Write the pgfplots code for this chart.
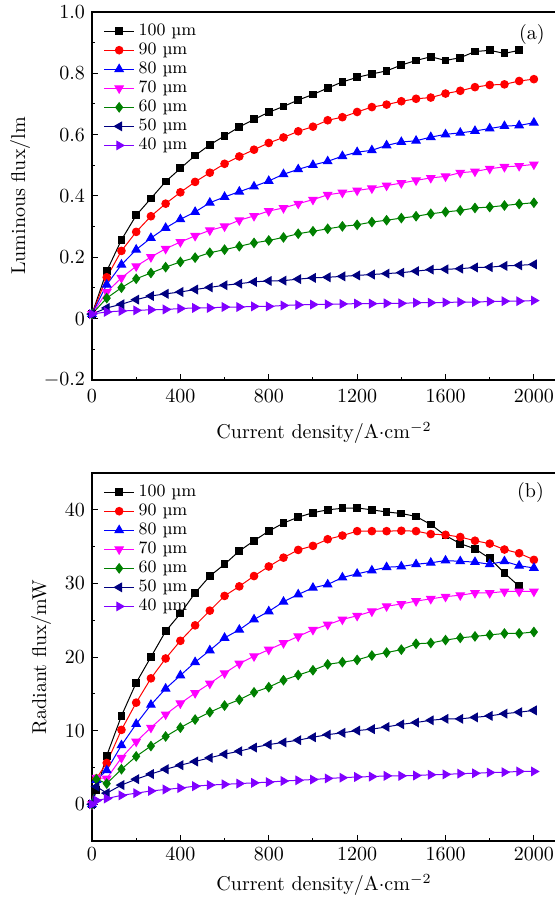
\documentclass[border=0pt]{standalone}
\usepackage{fontspec}
\usepackage{pgfplots}
\usepackage{pgfplotstable}
\pgfplotsset{compat=1.18}
\definecolor{cred}{RGB}{255,0,0}
\definecolor{cblue}{RGB}{0,0,255}
\definecolor{cmag}{RGB}{255,0,255}
\definecolor{cgreen}{RGB}{0,128,0}
\definecolor{cnavy}{RGB}{0,0,128}
\definecolor{cviol}{RGB}{128,0,255}

\pgfplotstableread{
x      a     b     c     d     e     f     g
0      0.015 0.015 0.015 0.015 0.015 0.015 0.015
66.7   0.155 0.135 0.111 0.087 0.067 0.035 0.022
133.3  0.257 0.221 0.176 0.133 0.101 0.047 0.025
200    0.337 0.283 0.225 0.171 0.130 0.062 0.027
266.7  0.392 0.334 0.263 0.201 0.149 0.074 0.029
333.3  0.447 0.375 0.296 0.228 0.168 0.081 0.030
400    0.490 0.412 0.324 0.250 0.185 0.087 0.033
466.7  0.532 0.446 0.348 0.270 0.199 0.095 0.035
533.3  0.567 0.476 0.378 0.288 0.215 0.102 0.035
600    0.596 0.505 0.397 0.301 0.225 0.109 0.038
666.7  0.625 0.529 0.414 0.321 0.236 0.114 0.038
733.3  0.650 0.551 0.431 0.335 0.247 0.120 0.040
800    0.673 0.573 0.449 0.351 0.255 0.123 0.040
866.7  0.692 0.591 0.471 0.361 0.265 0.124 0.043
933.3  0.713 0.611 0.487 0.375 0.277 0.129 0.045
1000   0.731 0.626 0.501 0.388 0.285 0.133 0.046
1066.7 0.752 0.647 0.513 0.404 0.293 0.135 0.047
1133.3 0.772 0.657 0.530 0.411 0.301 0.138 0.048
1200   0.787 0.674 0.543 0.418 0.306 0.141 0.049
1266.7 0.798 0.690 0.549 0.425 0.315 0.144 0.049
1333.3 0.808 0.698 0.565 0.434 0.321 0.147 0.050
1400   0.827 0.709 0.576 0.442 0.328 0.150 0.050
1466.7 0.842 0.717 0.580 0.451 0.334 0.155 0.052
1533.3 0.854 0.721 0.592 0.459 0.342 0.160 0.052
1600   0.842 0.734 0.601 0.464 0.348 0.161 0.053
1666.7 0.851 0.743 0.606 0.476 0.353 0.163 0.054
1733.3 0.871 0.755 0.612 0.480 0.361 0.167 0.054
1800   0.875 0.762 0.620 0.489 0.364 0.168 0.056
1866.7 0.865 0.764 0.628 0.495 0.369 0.172 0.057
1933.3 0.875 0.775 0.630 0.498 0.374 0.174 0.057
2000   nan   0.781 0.639 0.503 0.378 0.177 0.059
}\lumtable

\pgfplotstableread{
x      a     b     c     d     e     f     g
0      0     0     0     0     0     0     0
20     1.9   3.5   3.3   3.6   3.4   2.4   0.5
66.7   6.6   5.6   4.6   3.5   2.8   1.5   0.77
133.3  12.0  10.1  8.0   6.3   4.75  2.6   1.2
200    16.5  13.8  10.9  8.5   6.5   3.4   1.5
266.7  20.0  17.1  13.5  10.4  7.9   4.1   1.8
333.3  23.5  19.8  15.7  12.2  9.2   4.75  2.0
400    25.9  22.2  17.5  13.7  10.4  5.3   2.2
466.7  28.7  24.3  19.3  15.1  11.5  5.8   2.45
533.3  31.0  26.3  20.9  16.4  12.5  6.3   2.6
600    32.6  28.3  22.6  17.8  13.4  6.8   2.7
666.7  34.4  29.6  23.7  19.1  14.2  7.2   2.8
733.3  35.8  31.0  25.1  20.1  15.2  7.7   2.9
800    37.1  32.3  26.2  21.0  15.9  8.1   3.0
866.7  38.2  33.5  27.5  21.9  16.85 8.4   3.15
933.3  39.0  34.55 28.5  22.8  17.55 8.7   3.25
1000   39.6  35.1  29.4  23.7  18.2  9.1   3.35
1066.7 40.0  36.0  29.85 24.4  19.0  9.45  3.5
1133.3 40.2  36.5  30.8  25.1  19.3  9.7   3.6
1200   40.25 37.1  31.3  25.6  19.6  10.0  3.7
1266.7 40.0  37.1  31.75 26.2  20.2  10.2  3.75
1333.3 39.7  37.1  32.2  26.9  20.6  10.5  3.85
1400   39.5  37.15 32.3  27.2  21.0  10.85 3.85
1466.7 39.1  37.1  32.6  27.6  21.8  11.1  3.9
1533.3 38.0  36.7  32.8  27.9  21.9  11.4  4.0
1600   36.5  36.6  33.1  28.2  22.3  11.6  4.05
1666.7 35.4  36.3  33.0  28.4  22.6  11.6  4.15
1733.3 34.7  35.8  32.9  28.7  22.8  11.8  4.2
1800   33.4  35.4  32.6  28.7  23.0  12.0  4.3
1866.7 31.4  34.6  33.0  28.9  23.2  12.3  4.35
1933.3 29.6  34.1  32.4  28.9  23.2  12.5  4.45
2000   nan   33.2  32.1  28.9  23.4  12.75 4.45
}\radtable

\pgfplotsset{
  myaxis/.style={
    width=232pt, height=184pt, scale only axis,
    xmin=0, xmax=2100,
    xtick={0,400,...,2000},
    /pgf/number format/set thousands separator={},
    minor x tick num=1, minor y tick num=1,
    xtick pos=bottom, ytick pos=left,
    tick align=inside,
    major tick length=3pt, minor tick length=1.5pt,
    axis line style={line width=0.6pt},
    every tick/.style={line width=0.5pt},
    xlabel={Current density/A$\cdot$cm$^{-2}$},
    clip=false,
    unbounded coords=jump,
    legend cell align=left,
    legend image code/.code={%
      \draw[mark repeat=2,mark phase=2] plot coordinates {(0pt,0pt) (7.5pt,0pt) (15pt,0pt)};},
    legend style={draw=none, fill=none, at={(0.02,0.985)}, anchor=north west,
      font=\fontsize{8.7}{10}\selectfont, row sep=-1.8pt, inner sep=1pt},
    every axis plot/.append style={line width=0.5pt},
  },
  s1/.style={black, mark=square*, mark size=1.7pt},
  s2/.style={cred, mark=*, mark size=1.9pt},
  s3/.style={cblue, mark=triangle*, mark size=2.4pt},
  s4/.style={cmag, mark=triangle*, mark size=2.4pt, mark options={rotate=180}},
  s5/.style={cgreen, mark=diamond*, mark size=2.3pt},
  s6/.style={cnavy, mark=triangle*, mark size=2.4pt, mark options={rotate=90}},
  s7/.style={cviol, mark=triangle*, mark size=2.4pt, mark options={rotate=-90}},
}

\begin{document}
\begin{tikzpicture}
\path[use as bounding box] (-46pt,-30pt) rectangle (231.5pt,420.5pt);
\begin{axis}[myaxis, at={(0pt,230.5pt)}, anchor=south west,
  ymin=-0.2, ymax=1.0,
  ytick={-0.2,0,0.2,0.4,0.6,0.8,1.0},
  yticklabels={$-0.2$,$0$,$0.2$,$0.4$,$0.6$,$0.8$,$1.0$},
  xticklabel style={yshift=-1.5pt},
  xlabel style={yshift=-3pt},
  ylabel={Luminous flux/lm}]
\addplot[s1] table[x=x,y=a]{\lumtable};
\addplot[s2] table[x=x,y=b]{\lumtable};
\addplot[s3] table[x=x,y=c]{\lumtable};
\addplot[s4] table[x=x,y=d]{\lumtable};
\addplot[s5] table[x=x,y=e]{\lumtable};
\addplot[s6] table[x=x,y=f]{\lumtable};
\addplot[s7] table[x=x,y=g]{\lumtable};
\legend{100 µm,90 µm,80 µm,70 µm,60 µm,50 µm,40 µm}
\node at (axis description cs:0.948,0.94) {(a)};
\end{axis}
\begin{axis}[myaxis, at={(0pt,0pt)}, anchor=south west,
  ymin=-5, ymax=45,
  ytick={0,10,20,30,40},
  ylabel={Radiant flux/mW}]
\addplot[s1] table[x=x,y=a]{\radtable};
\addplot[s2] table[x=x,y=b]{\radtable};
\addplot[s3] table[x=x,y=c]{\radtable};
\addplot[s4] table[x=x,y=d]{\radtable};
\addplot[s5] table[x=x,y=e]{\radtable};
\addplot[s6] table[x=x,y=f]{\radtable};
\addplot[s7] table[x=x,y=g]{\radtable};
\legend{100 µm,90 µm,80 µm,70 µm,60 µm,50 µm,40 µm}
\node at (axis description cs:0.945,0.946) {(b)};
\end{axis}
\end{tikzpicture}
\end{document}
